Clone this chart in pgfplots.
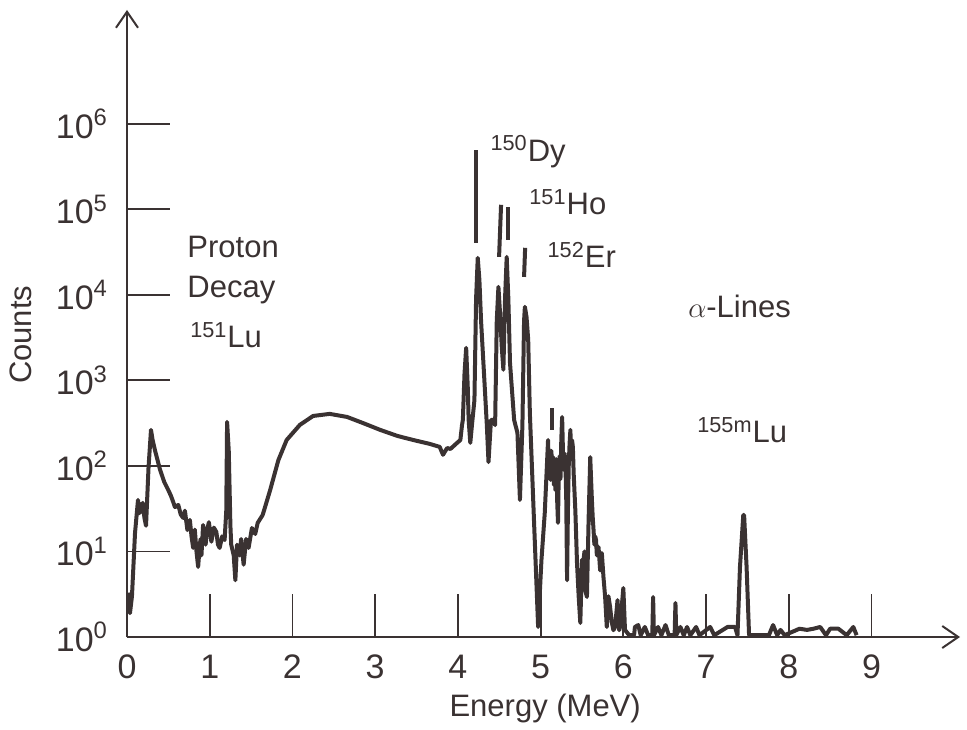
\documentclass[border=0pt]{standalone}
\usepackage{pgfplots}
\pgfplotsset{compat=1.18}
\usepackage{fontspec}
\setmainfont{Liberation Sans}
\usetikzlibrary{arrows.meta}
\definecolor{ink}{HTML}{3A3232}
\begin{document}
\begin{tikzpicture}
\begin{axis}[
  scale only axis,
  width=416.5pt, height=313.5pt,
  xmin=0, xmax=10.07,
  ymode=log, ymin=1, ymax=2.14e7,
  axis x line=bottom, axis y line=left,
  axis line style={ink, line width=1pt, -{Straight Barb[length=8pt,width=11pt,line width=1pt]}},
  tick align=inside,
  major tick length=21.5pt,
  tick style={ink, line width=0.9pt},
  minor tick style={draw=none},
  xtick={0,1,2,3,4,5,6,7,8,9},
  xticklabels={0,1,2,3,4,5,6,7,8,9},
  ytick={1,10,100,1000,10000,100000,1000000},
  yticklabels={10\textsuperscript{0},10\textsuperscript{1},10\textsuperscript{2},10\textsuperscript{3},10\textsuperscript{4},10\textsuperscript{5},10\textsuperscript{6}},
  ticklabel style={font=\fontsize{17}{19}\selectfont, text=ink},
  xticklabel style={yshift=-5.5pt},
  yticklabel style={xshift=-6pt},
  xlabel={Energy (MeV)},
  ylabel={Counts},
  label style={font=\fontsize{15.5}{18}\selectfont, text=ink},
  xlabel style={at={(axis description cs:0.502,-0.114)}, anchor=center},
  ylabel style={at={(axis description cs:-0.128,0.482)}, anchor=center},
  clip=false,
]
\addplot[ink, line width=2pt, line join=round] table {
x y
0.012 3.3
0.036 1.9
0.06 3
0.097 16.5
0.133 40
0.15 28
0.17 32
0.19 37
0.21 25
0.23 20
0.26 95
0.29 264
0.31 200
0.34 150
0.40 90
0.45 65
0.50 52
0.53 45
0.55 40
0.58 33
0.62 35
0.65 27
0.68 24.6
0.70 30
0.73 17.8
0.76 23.4
0.78 15
0.80 11
0.82 18
0.84 10
0.86 6.6
0.88 12
0.89 14
0.90 9
0.92 20.4
0.95 12
0.97 18
0.99 22
1.02 13
1.04 17
1.05 19
1.08 16.9
1.10 12
1.12 11
1.15 15
1.18 13.6
1.20 30
1.21 327
1.23 150
1.25 20
1.26 12
1.29 9
1.31 4.6
1.33 12
1.36 9
1.38 14
1.41 7
1.44 14
1.47 11
1.51 18.8
1.55 16
1.58 21.6
1.64 26.7
1.73 52
1.83 117
1.93 201
2.09 302
2.25 384
2.45 406
2.66 374
2.85 318
3.06 264
3.27 224
3.46 201
3.66 181
3.78 167
3.82 135
3.87 162
3.91 158
3.99 186
4.03 201
4.05 300
4.06 345
4.08 1200
4.10 2400
4.12 800
4.13 345
4.15 186
4.17 300
4.20 590
4.22 9000
4.24 27100
4.26 15000
4.28 5000
4.32 1010
4.35 300
4.37 111
4.40 345
4.43 345
4.45 300
4.47 5000
4.49 12400
4.51 6000
4.53 2500
4.55 1330
4.57 9000
4.59 27800
4.61 9000
4.63 1600
4.68 345
4.72 243
4.75 40
4.78 300
4.80 5000
4.81 7240
4.83 5500
4.85 2980
4.87 417
4.92 23
4.97 1.31
5.01 7.9
5.05 28
5.09 201
5.10 80
5.11 150
5.12 68.6
5.13 150
5.14 90
5.15 127
5.16 60
5.17 110
5.18 52
5.19 120
5.20 40
5.21 21.6
5.22 90
5.23 130
5.24 70
5.25 200
5.26 374
5.27 150
5.28 90
5.29 140
5.30 108
5.31 40
5.32 4.6
5.33 30
5.34 100
5.35 180
5.36 264
5.37 120
5.38 200
5.39 167
5.40 80
5.42 30
5.44 7.3
5.46 3
5.48 1.46
5.50 8
5.51 6.6
5.53 10
5.54 3.5
5.56 2.94
5.58 23
5.60 127
5.61 70
5.62 40
5.63 25
5.64 17.8
5.65 12
5.66 15
5.67 13.6
5.68 9
5.70 11.3
5.72 6
5.74 9.6
5.76 5
5.78 2.94
5.80 1.31
5.82 3
5.84 2.24
5.86 1.5
5.88 1.2
5.90 1.31
5.93 2.7
5.95 1.2
5.96 1.31
6.00 3.74
6.02 1.21
6.07 1.05
6.13 1.05
6.14 1.31
6.18 1.38
6.21 1.05
6.26 1.31
6.30 1.05
6.35 1.05
6.36 2.94
6.37 1.05
6.42 1.31
6.46 1.05
6.51 1.38
6.55 1.05
6.62 1.05
6.63 2.5
6.64 1.05
6.69 1.31
6.73 1.05
6.77 1.31
6.81 1.05
6.88 1.31
6.92 1.05
7.05 1.31
7.10 1.05
7.26 1.31
7.35 1.31
7.38 1.05
7.41 6.59
7.45 26.7
7.46 26.7
7.49 6.59
7.52 1.05
7.76 1.05
7.81 1.38
7.86 1.05
7.90 1.21
7.95 1.05
8.13 1.25
8.22 1.21
8.30 1.25
8.38 1.31
8.45 1.05
8.50 1.25
8.60 1.25
8.70 1.05
8.78 1.31
8.82 1.05
};
% separated peak tops
\addplot[ink, line width=2pt] coordinates {(4.220,40600) (4.220,497000)};
\addplot[ink, line width=2pt] coordinates {(4.498,27800) (4.522,113000)};
\addplot[ink, line width=2pt] coordinates {(4.607,44000) (4.607,107000)};
\addplot[ink, line width=2pt] coordinates {(4.800,16200) (4.813,35500)};
\addplot[ink, line width=2pt] coordinates {(5.139,264) (5.139,477)};
% annotations
\begin{scope}[every node/.style={font=\fontsize{15.5}{18}\selectfont, text=ink, inner sep=0pt}]
\node[anchor=base west] at (axis cs:4.39,3.63e5) {\textsuperscript{150}Dy};
\node[anchor=base west] at (axis cs:4.86,8.7e4) {\textsuperscript{151}Ho};
\node[anchor=base west] at (axis cs:5.08,2.09e4) {\textsuperscript{152}Er};
\node[anchor=base west] at (axis cs:0.726,2.7e4) {Proton};
\node[anchor=base west] at (axis cs:0.726,9200) {Decay};
\node[anchor=base west] at (axis cs:0.76,2400) {\textsuperscript{151}Lu};
\node[anchor=base west] at (axis cs:6.78,5400) {$\alpha$-Lines};
\node[anchor=base west] at (axis cs:6.89,186) {\textsuperscript{155m}Lu};
\end{scope}
\end{axis}
\path (-63.5pt,-44.5pt) rectangle (420pt,318.5pt);
\end{tikzpicture}
\end{document}
